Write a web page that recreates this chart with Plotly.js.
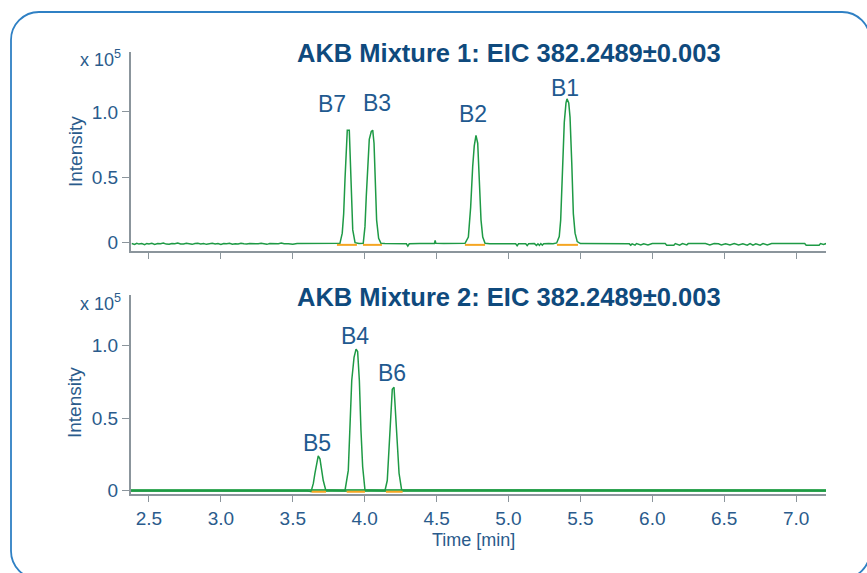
<!DOCTYPE html>
<html><head><meta charset="utf-8">
<script src="https://cdn.plot.ly/plotly-3.0.1.min.js"></script>
<style>html,body{margin:0;padding:0;background:#fff}#chart{width:867px;height:573px}</style>
</head><body><div id="chart"></div>
<script>
// ---- Mixture 1 chromatogram (intensity in units of 10^5) ----
const time1 = [
2.380,2.400,2.415,2.430,2.450,2.470,2.485,2.500,2.520,2.540,2.560,2.580,2.600,2.620,2.640,2.660,2.680,2.700,2.720,2.740,
2.760,2.780,2.800,2.820,2.840,2.860,2.880,2.900,2.920,2.940,2.960,2.980,3.000,3.020,3.040,3.060,3.080,3.100,3.120,3.140,
3.160,3.180,3.200,3.230,3.260,3.280,3.300,3.320,3.340,3.370,3.400,3.420,3.440,3.470,3.500,3.530,3.560,3.600,3.640,3.670,
3.700,3.730,3.760,3.790,
3.828,3.844,3.854,3.863,3.872,3.879,3.893,3.900,3.907,3.917,3.933,
3.960,
3.990,4.002,4.011,4.021,4.032,4.046,4.056,4.065,4.074,4.083,4.097,4.113,
4.140,4.200,4.250,4.290,4.300,4.310,4.380,4.450,4.485,4.490,4.495,4.550,4.620,4.680,
4.698,4.721,4.737,4.751,4.762,4.774,4.786,4.797,4.809,4.821,4.837,
4.870,4.950,5.020,5.050,5.060,5.070,5.120,5.130,5.140,5.180,5.195,5.205,5.215,5.225,5.235,5.245,5.280,5.310,
5.335,5.353,5.363,5.377,5.388,5.400,5.407,5.419,5.428,5.440,5.451,5.463,5.478,
5.500,5.600,5.700,5.800,5.840,5.850,5.860,5.880,5.890,5.920,5.940,5.970,6.000,6.090,6.100,6.150,6.160,6.190,6.210,6.240,
6.250,6.370,6.400,6.430,6.460,6.480,6.510,6.540,6.570,6.600,6.630,6.660,6.680,6.700,6.720,6.750,6.770,6.800,6.830,7.060,
7.070,7.160,7.170,7.190,7.210
];
const intensity1 = [
-0.010,-0.016,-0.008,-0.014,-0.010,-0.018,-0.009,-0.013,-0.008,-0.016,-0.010,-0.012,-0.006,-0.014,-0.015,-0.009,-0.012,-0.005,-0.013,-0.013,
-0.007,-0.011,-0.016,-0.010,-0.007,-0.013,-0.009,-0.016,-0.011,-0.008,-0.014,-0.010,-0.017,-0.009,-0.012,-0.008,-0.015,-0.011,-0.013,-0.007,
-0.012,-0.014,-0.009,-0.012,-0.012,-0.007,-0.013,-0.016,-0.010,-0.012,-0.012,-0.006,-0.012,-0.012,-0.016,-0.010,-0.010,-0.012,-0.012,-0.008,
-0.011,-0.012,-0.008,-0.012,
-0.008,0.070,0.220,0.480,0.740,0.860,0.860,0.610,0.300,0.095,-0.003,
-0.010,
-0.008,0.120,0.350,0.610,0.790,0.850,0.860,0.760,0.480,0.170,0.030,-0.008,
-0.010,-0.012,-0.010,-0.012,-0.030,-0.012,-0.010,-0.011,-0.010,0.015,-0.008,-0.010,-0.010,-0.010,
-0.008,0.040,0.270,0.580,0.740,0.820,0.760,0.480,0.170,0.040,-0.008,
-0.012,-0.010,-0.012,-0.012,-0.026,-0.011,-0.012,-0.026,-0.012,-0.010,-0.024,-0.012,-0.024,-0.010,-0.022,-0.011,-0.010,-0.012,
-0.005,0.043,0.170,0.610,0.920,1.070,1.100,1.070,0.960,0.610,0.220,0.070,0.005,
-0.010,-0.010,-0.011,-0.010,-0.012,-0.022,-0.012,-0.022,-0.010,-0.020,-0.012,-0.021,-0.010,-0.010,-0.022,-0.022,-0.010,-0.022,-0.010,-0.020,
-0.010,-0.010,-0.020,-0.010,-0.012,-0.020,-0.012,-0.020,-0.010,-0.020,-0.012,-0.022,-0.010,-0.022,-0.012,-0.022,-0.010,-0.020,-0.010,-0.010,
-0.022,-0.022,-0.010,-0.016,-0.010
];
// integration baselines (start, end per peak)
const baseTime1 = [3.807,3.946,null,3.988,4.120,null,4.697,4.837,null,5.337,5.483];
const baseInt1  = [-0.020,-0.020,null,-0.020,-0.020,null,-0.020,-0.020,null,-0.020,-0.020];
const peakNames1 = ['B7','B3','B2','B1'];
const labelTime1 = [3.770,4.089,4.750,5.396];
const labelInt1  = [1.061,1.069,0.987,1.184];

// ---- Mixture 2 chromatogram ----
const time2 = [
2.375,3.600,
3.627,3.643,3.654,3.666,3.677,3.689,3.701,3.712,3.729,
3.800,
3.863,3.886,3.898,3.910,3.926,3.940,3.951,3.963,3.974,3.986,4.002,
4.080,
4.141,4.157,4.169,4.181,4.192,4.204,4.216,4.227,4.239,4.257,
7.208
];
const intensity2 = [
0,0,
-0.007,0.050,0.120,0.200,0.240,0.220,0.140,0.070,0.005,
0,
0,0.140,0.420,0.760,0.920,0.977,0.960,0.760,0.420,0.165,0.005,
0,
0,0.070,0.300,0.530,0.700,0.713,0.530,0.300,0.120,0.005,
0
];
const baseTime2 = [3.631,3.731,null,3.875,4.002,null,4.148,4.264];
const baseInt2  = [-0.008,-0.008,null,-0.008,-0.008,null,-0.008,-0.008];
const peakNames2 = ['B5','B4','B6'];
const labelTime2 = [3.665,3.935,4.190];
const labelInt2  = [0.329,1.067,0.812];

// ---- axes / text ----
const xTicks = [2.5,3.0,3.5,4.0,4.5,5.0,5.5,6.0,6.5,7.0];
const xTickText = ['2.5','3.0','3.5','4.0','4.5','5.0','5.5','6.0','6.5','7.0'];
const yTicks = [0,0.5,1.0];
const yTickText = ['0','0.5','1.0'];
const panelTitles = ['AKB Mixture 1: EIC 382.2489±0.003','AKB Mixture 2: EIC 382.2489±0.003'];
const yTitle = 'Intensity';
const xTitle = 'Time [min]';
const scaleText = 'x 10<sup>5</sup>';

// ---- style ----
const W = 867, H = 573;
const fx = p => p / W, fy = p => 1 - p / H;
const FONT = 'Liberation Sans, Arial, sans-serif';
const GREEN = '#1e9a45', ORANGE = '#f5a623', AXIS = '#8b959c';
const TICKBLUE = '#2a5b8c', TITLEBLUE = '#0f4a7d', LABELBLUE = '#1f5a90';

const traces = [
  {x: time1, y: intensity1, xaxis: 'x', yaxis: 'y', type: 'scatter', mode: 'lines', line: {color: GREEN, width: 1.5}, hoverinfo: 'skip'},
  {x: baseTime1, y: baseInt1, xaxis: 'x', yaxis: 'y', type: 'scatter', mode: 'lines', line: {color: ORANGE, width: 2}, connectgaps: false, hoverinfo: 'skip'},
  {x: time2, y: intensity2, xaxis: 'x2', yaxis: 'y2', type: 'scatter', mode: 'lines', line: {color: GREEN, width: 1.5}, hoverinfo: 'skip'},
  {x: baseTime2, y: baseInt2, xaxis: 'x2', yaxis: 'y2', type: 'scatter', mode: 'lines', line: {color: ORANGE, width: 2}, connectgaps: false, hoverinfo: 'skip'}
];

const xCommon = {
  domain: [fx(131), fx(826)], range: [2.375, 7.208], tickvals: xTicks, ticktext: xTickText,
  showline: true, linecolor: AXIS, linewidth: 2, ticks: 'outside', ticklen: 6, tickwidth: 1, tickcolor: AXIS,
  showgrid: false, zeroline: false, tickfont: {family: FONT, size: 19, color: TICKBLUE}, fixedrange: true
};
const yCommon = {
  tickvals: yTicks, ticktext: yTickText, showline: true, linecolor: AXIS, linewidth: 2,
  ticks: 'outside', ticklen: 7, tickwidth: 1, tickcolor: AXIS, showgrid: false,
  tickfont: {family: FONT, size: 19, color: TICKBLUE}, fixedrange: true
};

const annotations = [];
peakNames1.forEach((n, i) => annotations.push({xref: 'x', yref: 'y', x: labelTime1[i], y: labelInt1[i], text: n, showarrow: false, xanchor: 'center', yanchor: 'middle', font: {family: FONT, size: 23, color: LABELBLUE}}));
peakNames2.forEach((n, i) => annotations.push({xref: 'x2', yref: 'y2', x: labelTime2[i], y: labelInt2[i], text: n, showarrow: false, xanchor: 'center', yanchor: 'middle', font: {family: FONT, size: 23, color: LABELBLUE}}));
[[53, 58, 152], [297, 303, 403]].forEach((r, i) => {
  annotations.push({xref: 'paper', yref: 'paper', x: fx(509), y: fy(r[0]), text: '<b>' + panelTitles[i] + '</b>', showarrow: false, xanchor: 'center', yanchor: 'middle', font: {family: FONT, size: 25.5, color: TITLEBLUE}});
  annotations.push({xref: 'paper', yref: 'paper', x: fx(123), y: fy(r[1]), text: scaleText, showarrow: false, xanchor: 'right', yanchor: 'middle', font: {family: FONT, size: 18, color: TICKBLUE}});
  annotations.push({xref: 'paper', yref: 'paper', x: fx(75), y: fy(r[2]), text: yTitle, textangle: -90, showarrow: false, xanchor: 'center', yanchor: 'middle', font: {family: FONT, size: 19, color: TICKBLUE}});
});
annotations.push({xref: 'paper', yref: 'paper', x: fx(473.5), y: fy(540), text: xTitle, showarrow: false, xanchor: 'center', yanchor: 'middle', font: {family: FONT, size: 18, color: TICKBLUE}});

// rounded frame
const x0 = 11, y0 = 12, x1 = 870, y1 = 579, r = 28, k = 0.5523 * r;
const P = (x, y) => fx(x) + ',' + fy(y);
const framePath = 'M' + P(x0 + r, y0) + ' L' + P(x1 - r, y0) +
  ' C' + P(x1 - r + k, y0) + ' ' + P(x1, y0 + r - k) + ' ' + P(x1, y0 + r) +
  ' L' + P(x1, y1 - r) +
  ' C' + P(x1, y1 - r + k) + ' ' + P(x1 - r + k, y1) + ' ' + P(x1 - r, y1) +
  ' L' + P(x0 + r, y1) +
  ' C' + P(x0 + r - k, y1) + ' ' + P(x0, y1 - r + k) + ' ' + P(x0, y1 - r) +
  ' L' + P(x0, y0 + r) +
  ' C' + P(x0, y0 + r - k) + ' ' + P(x0 + r - k, y0) + ' ' + P(x0 + r, y0) + ' Z';

const layout = {
  width: W, height: H, margin: {l: 0, r: 0, t: 0, b: 0},
  paper_bgcolor: '#ffffff', plot_bgcolor: 'rgba(0,0,0,0)', showlegend: false,
  xaxis: Object.assign({}, xCommon, {anchor: 'y', showticklabels: false}),
  yaxis: Object.assign({}, yCommon, {anchor: 'x', domain: [fy(251), fy(52)], range: [-0.067, 1.46], zeroline: false}),
  xaxis2: Object.assign({}, xCommon, {anchor: 'y2', showticklabels: true}),
  yaxis2: Object.assign({}, yCommon, {anchor: 'x2', domain: [fy(494.3), fy(295)], range: [-0.025, 1.35], zeroline: true, zerolinecolor: '#3dab5c', zerolinewidth: 3}),
  annotations: annotations,
  shapes: [{type: 'path', xref: 'paper', yref: 'paper', path: framePath, line: {color: '#2f80c4', width: 1.8}, fillcolor: 'rgba(0,0,0,0)', layer: 'below'}]
};

Plotly.newPlot('chart', traces, layout, {staticPlot: true, displayModeBar: false});
</script>
</body></html>
